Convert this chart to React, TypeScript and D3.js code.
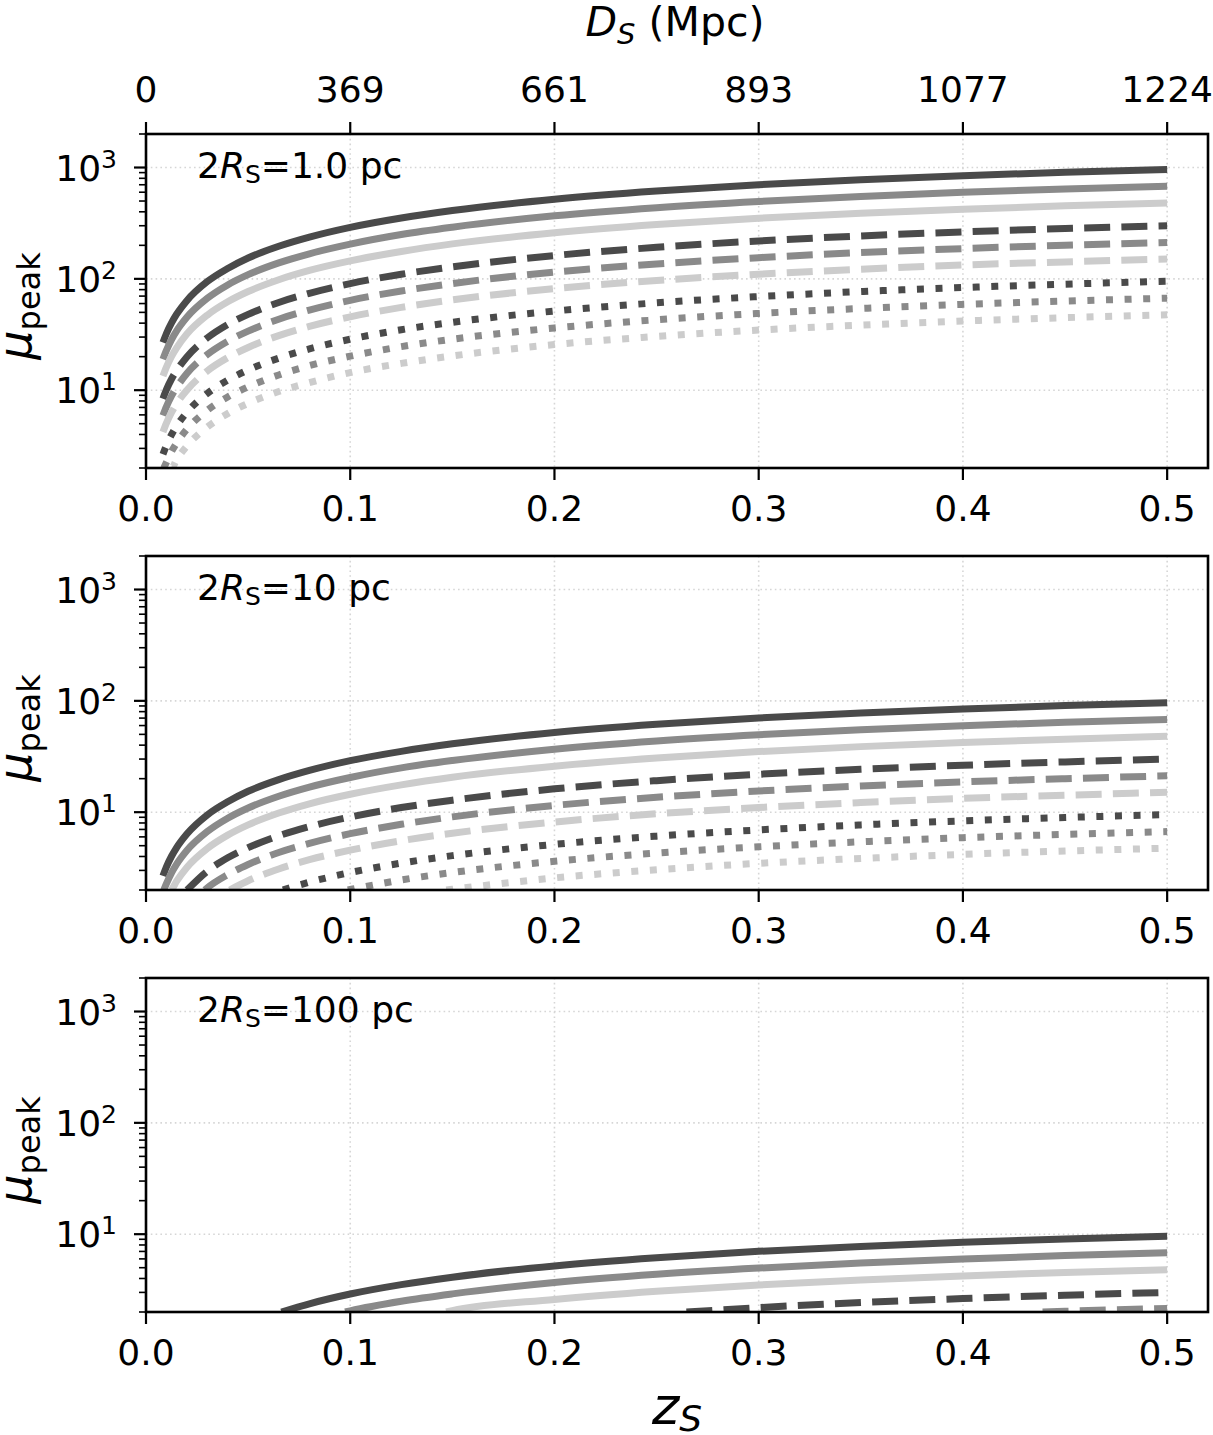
import React from "react";
import * as d3 from "d3";

// source redshift samples shared by every curve
const zS = [
  0.0083, 0.01, 0.0125, 0.015, 0.02, 0.03, 0.04, 0.05, 0.065, 0.08, 0.1, 0.125,
  0.15, 0.2, 0.25, 0.3, 0.35, 0.4, 0.45, 0.5,
];

const zTicks = [0, 0.1, 0.2, 0.3, 0.4, 0.5];
const zTickLabels = ["0.0", "0.1", "0.2", "0.3", "0.4", "0.5"];
const dTickLabels = ["0", "369", "661", "893", "1077", "1224"];
const yMajorTicks = [10, 100, 1000];
const yTickExponents = ["1", "2", "3"];
const panelSizes = ["1.0", "10", "100"];
const Y_MIN = 2;
const Y_MAX = 2000;

// 2R_S = 1.0 pc
const p1SolidDark = [26.8, 32.3, 40.2, 48.1, 63.7, 94.5, 124, 154, 196, 237, 290, 352, 411, 519, 615, 701, 777, 845, 906, 960];
const p1SolidMid = [19.0, 22.8, 28.5, 34.1, 45.2, 66.9, 88.2, 109, 139, 168, 205, 250, 291, 368, 436, 496, 550, 599, 642, 680];
const p1SolidLight = [13.4, 16.1, 20.1, 24.0, 31.9, 47.2, 62.2, 76.9, 98.2, 119, 145, 176, 206, 259, 307, 350, 388, 422, 453, 480];
const p1DashDark = [8.39, 10.1, 12.6, 15.0, 19.9, 29.5, 38.9, 48.0, 61.4, 74.2, 90.6, 110, 128, 162, 192, 219, 243, 264, 283, 300];
const p1DashMid = [5.93, 7.12, 8.88, 10.6, 14.1, 20.9, 27.5, 33.9, 43.4, 52.4, 64.1, 77.8, 90.8, 115, 136, 155, 172, 187, 200, 212];
const p1DashLight = [4.22, 5.07, 6.32, 7.57, 10.0, 14.9, 19.6, 24.2, 30.9, 37.4, 45.6, 55.4, 64.7, 81.6, 96.7, 110, 122, 133, 142, 151];
const p1DotDark = [2.66, 3.19, 3.98, 4.76, 6.31, 9.35, 12.3, 15.2, 19.4, 23.5, 28.7, 34.9, 40.7, 51.4, 60.9, 69.3, 76.9, 83.6, 89.6, 95];
const p1DotMid = [1.87, 2.25, 2.81, 3.36, 4.45, 6.59, 8.69, 10.7, 13.7, 16.6, 20.2, 24.6, 28.7, 36.2, 42.9, 48.9, 54.2, 59.0, 63.2, 67];
const p1DotLight = [1.33, 1.6, 1.99, 2.38, 3.15, 4.67, 6.16, 7.61, 9.72, 11.7, 14.4, 17.4, 20.3, 25.7, 30.4, 34.7, 38.4, 41.8, 44.8, 47.5];
// z where each curve enters the plot (at the axis floor when later than the first sample)
const p1Start = [0.0083, 0.0083, 0.0083, 0.0083, 0.0083, 0.0083, 0.0083, 0.0087, 0.0125];

// 2R_S = 10 pc
const p2SolidDark = [2.68, 3.23, 4.02, 4.81, 6.37, 9.45, 12.4, 15.4, 19.6, 23.7, 29.0, 35.2, 41.1, 51.9, 61.5, 70.1, 77.7, 84.5, 90.6, 96.0];
const p2SolidMid = [1.9, 2.28, 2.85, 3.41, 4.52, 6.69, 8.82, 10.9, 13.9, 16.8, 20.5, 25.0, 29.1, 36.8, 43.6, 49.6, 55.0, 59.9, 64.2, 68.0];
const p2SolidLight = [1.34, 1.61, 2.01, 2.4, 3.19, 4.72, 6.22, 7.69, 9.82, 11.9, 14.5, 17.6, 20.6, 25.9, 30.7, 35.0, 38.8, 42.2, 45.3, 48.0];
const p2DashDark = [0.839, 1.01, 1.26, 1.5, 1.99, 2.95, 3.89, 4.8, 6.14, 7.42, 9.06, 11.0, 12.8, 16.2, 19.2, 21.9, 24.3, 26.4, 28.3, 30.0];
const p2DashMid = [0.593, 0.712, 0.888, 1.06, 1.41, 2.09, 2.75, 3.39, 4.34, 5.24, 6.41, 7.78, 9.08, 11.5, 13.6, 15.5, 17.2, 18.7, 20.0, 21.2];
const p2DashLight = [0.422, 0.507, 0.632, 0.757, 1.0, 1.49, 1.96, 2.42, 3.09, 3.74, 4.56, 5.54, 6.47, 8.16, 9.67, 11.0, 12.2, 13.3, 14.2, 15.1];
const p2DotDark = [0.266, 0.319, 0.398, 0.476, 0.631, 0.935, 1.23, 1.52, 1.94, 2.35, 2.87, 3.49, 4.07, 5.14, 6.09, 6.93, 7.69, 8.36, 8.96, 9.5];
const p2DotMid = [0.187, 0.225, 0.281, 0.336, 0.445, 0.659, 0.869, 1.07, 1.37, 1.66, 2.02, 2.46, 2.87, 3.62, 4.29, 4.89, 5.42, 5.9, 6.32, 6.7];
const p2DotLight = [0.133, 0.16, 0.199, 0.238, 0.315, 0.467, 0.616, 0.761, 0.972, 1.17, 1.44, 1.74, 2.03, 2.57, 3.04, 3.47, 3.84, 4.18, 4.48, 4.75];
const p2Start = [0.0083, 0.0087, 0.0124, 0.0201, 0.0288, 0.041, 0.0671, 0.0988, 0.147];

// 2R_S = 100 pc (the rest stay below the axis floor)
const p3SolidDark = [0.268, 0.323, 0.402, 0.481, 0.637, 0.945, 1.24, 1.54, 1.96, 2.37, 2.9, 3.52, 4.11, 5.19, 6.15, 7.01, 7.77, 8.45, 9.06, 9.6];
const p3SolidMid = [0.19, 0.228, 0.285, 0.341, 0.452, 0.669, 0.882, 1.09, 1.39, 1.68, 2.05, 2.5, 2.91, 3.68, 4.36, 4.96, 5.5, 5.99, 6.42, 6.8];
const p3SolidLight = [0.134, 0.161, 0.201, 0.24, 0.319, 0.472, 0.622, 0.769, 0.982, 1.19, 1.45, 1.76, 2.06, 2.59, 3.07, 3.5, 3.88, 4.22, 4.53, 4.8];
const p3DashDark = [0.0839, 0.101, 0.126, 0.15, 0.199, 0.295, 0.389, 0.48, 0.614, 0.742, 0.906, 1.1, 1.28, 1.62, 1.92, 2.19, 2.43, 2.64, 2.83, 3.0];
const p3DashMid = [0.0601, 0.0722, 0.09, 0.108, 0.143, 0.212, 0.279, 0.344, 0.44, 0.532, 0.65, 0.789, 0.921, 1.16, 1.38, 1.57, 1.74, 1.89, 2.03, 2.15];
const p3Start = [0.0663, 0.0975, 0.147, 0.2646, 0.439];

const panels = [
  [p1SolidDark, p1SolidMid, p1SolidLight, p1DashDark, p1DashMid, p1DashLight, p1DotDark, p1DotMid, p1DotLight],
  [p2SolidDark, p2SolidMid, p2SolidLight, p2DashDark, p2DashMid, p2DashLight, p2DotDark, p2DotMid, p2DotLight],
  [p3SolidDark, p3SolidMid, p3SolidLight, p3DashDark, p3DashMid],
];
const panelStarts = [p1Start, p2Start, p3Start];

const DARK = "#4a4a4a";
const MID = "#8a8a8a";
const LIGHT = "#cccccc";
const LW = 7;
const DASH = "26 11.2";
const DOT = "7 11.6";
const styles = [
  { color: DARK, dash: undefined },
  { color: MID, dash: undefined },
  { color: LIGHT, dash: undefined },
  { color: DARK, dash: DASH },
  { color: MID, dash: DASH },
  { color: LIGHT, dash: DASH },
  { color: DARK, dash: DOT },
  { color: MID, dash: DOT },
  { color: LIGHT, dash: DOT },
];

const W = 1213;
const H = 1435;
const LEFT = 146;
const RIGHT = 1208;
const PANEL_H = 334;
const TOPS = [134, 556, 978];
const FONT = "DejaVu Sans";
const TICK_FS = 36;

const x = d3.scaleLinear().domain([0, 0.52]).range([LEFT, RIGHT]);

// curve points: entry point at the floor (if any), then the samples after it
function curvePoints(vals: number[], start: number): [number, number][] {
  const pts: [number, number][] = [];
  if (start > zS[0]) pts.push([start, Y_MIN]);
  zS.forEach((z, i) => {
    if (z >= start) pts.push([z, vals[i]]);
  });
  return pts;
}

const Panel: React.FC<{ idx: number }> = ({ idx }) => {
  const top = TOPS[idx];
  const bottom = top + PANEL_H;
  const y = d3.scaleLog().domain([Y_MIN, Y_MAX]).range([bottom, top]);
  const minor = y.ticks().filter((v) => !yMajorTicks.includes(v));
  const line = d3
    .line<[number, number]>()
    .x((d) => x(d[0]))
    .y((d) => y(d[1]))
    .curve(d3.curveMonotoneX);
  const clipId = `clip-${idx}`;
  const midY = (top + bottom) / 2;

  return (
    <g>
      <defs>
        <clipPath id={clipId}>
          <rect x={LEFT} y={top} width={RIGHT - LEFT} height={PANEL_H} />
        </clipPath>
      </defs>

      {/* grid */}
      {zTicks.slice(1).map((z) => (
        <line key={`gx${z}`} x1={x(z)} x2={x(z)} y1={top} y2={bottom}
          stroke="#d6d6d6" strokeWidth={1.6} strokeDasharray="1.6 3.2" />
      ))}
      {yMajorTicks.map((v) => (
        <line key={`gy${v}`} x1={LEFT} x2={RIGHT} y1={y(v)} y2={y(v)}
          stroke="#d6d6d6" strokeWidth={1.6} strokeDasharray="1.6 3.2" />
      ))}

      {/* curves */}
      <g clipPath={`url(#${clipId})`}>
        {panels[idx].map((vals, i) => (
          <path key={i} d={line(curvePoints(vals, panelStarts[idx][i])) || ""} fill="none"
            stroke={styles[i].color} strokeWidth={LW}
            strokeDasharray={styles[i].dash} strokeLinecap="butt" />
        ))}
      </g>

      {/* frame */}
      <rect x={LEFT} y={top} width={RIGHT - LEFT} height={PANEL_H}
        fill="none" stroke="#000" strokeWidth={2.6} />

      {/* y ticks */}
      {yMajorTicks.map((v, i) => (
        <g key={`yt${v}`}>
          <line x1={LEFT - 12} x2={LEFT} y1={y(v)} y2={y(v)} stroke="#000" strokeWidth={2.2} />
          <text x={117} y={y(v) + 13} textAnchor="end" fontFamily={FONT} fontSize={TICK_FS}>
            10<tspan fontSize={25} dy={-13}>{yTickExponents[i]}</tspan>
          </text>
        </g>
      ))}
      {minor.map((v) => (
        <line key={`ym${v}`} x1={LEFT - 7} x2={LEFT} y1={y(v)} y2={y(v)} stroke="#000" strokeWidth={1.6} />
      ))}

      {/* bottom z ticks */}
      {zTicks.map((z, i) => (
        <g key={`xt${z}`}>
          <line x1={x(z)} x2={x(z)} y1={bottom} y2={bottom + 12} stroke="#000" strokeWidth={2.2} />
          <text x={x(z)} y={bottom + 53} textAnchor="middle" fontFamily={FONT} fontSize={TICK_FS}>
            {zTickLabels[i]}
          </text>
        </g>
      ))}

      {/* top D_S axis on the first panel */}
      {idx === 0 &&
        zTicks.map((z, i) => (
          <g key={`dt${z}`}>
            <line x1={x(z)} x2={x(z)} y1={top} y2={top - 12} stroke="#000" strokeWidth={2.2} />
            <text x={x(z)} y={top - 32} textAnchor="middle" fontFamily={FONT} fontSize={TICK_FS}>
              {dTickLabels[i]}
            </text>
          </g>
        ))}

      {/* source size annotation */}
      <text x={197} y={top + 44} fontFamily={FONT} fontSize={36}>
        2<tspan fontStyle="italic">R</tspan>
        <tspan fontSize={25} dy={5}>S</tspan>
        <tspan dy={-5}>={panelSizes[idx]} pc</tspan>
      </text>

      {/* y label */}
      <text transform={`translate(31,${midY + 5}) rotate(-90)`} textAnchor="middle"
        fontFamily={FONT} fontSize={46}>
        <tspan fontStyle="italic">μ</tspan>
        <tspan fontSize={32} dy={9}>peak</tspan>
      </text>
    </g>
  );
};

export default function App() {
  const cx = (LEFT + RIGHT) / 2;
  return (
    <svg width={W} height={H} viewBox={`0 0 ${W} ${H}`}
      style={{ position: "absolute", left: 0, top: 0, background: "#fff" }}>
      <rect width={W} height={H} fill="#fff" />
      {TOPS.map((_, i) => (
        <Panel key={i} idx={i} />
      ))}
      <text x={cx - 2} y={36} textAnchor="middle" fontFamily={FONT} fontSize={41}>
        <tspan fontStyle="italic">D</tspan>
        <tspan fontStyle="italic" fontSize={29} dy={8}>S</tspan>
        <tspan dy={-8}> (Mpc)</tspan>
      </text>
      <text x={cx} y={1424} textAnchor="middle" fontFamily={FONT} fontSize={52}>
        <tspan fontStyle="italic">z</tspan>
        <tspan fontStyle="italic" fontSize={36} dy={7}>S</tspan>
      </text>
    </svg>
  );
}
